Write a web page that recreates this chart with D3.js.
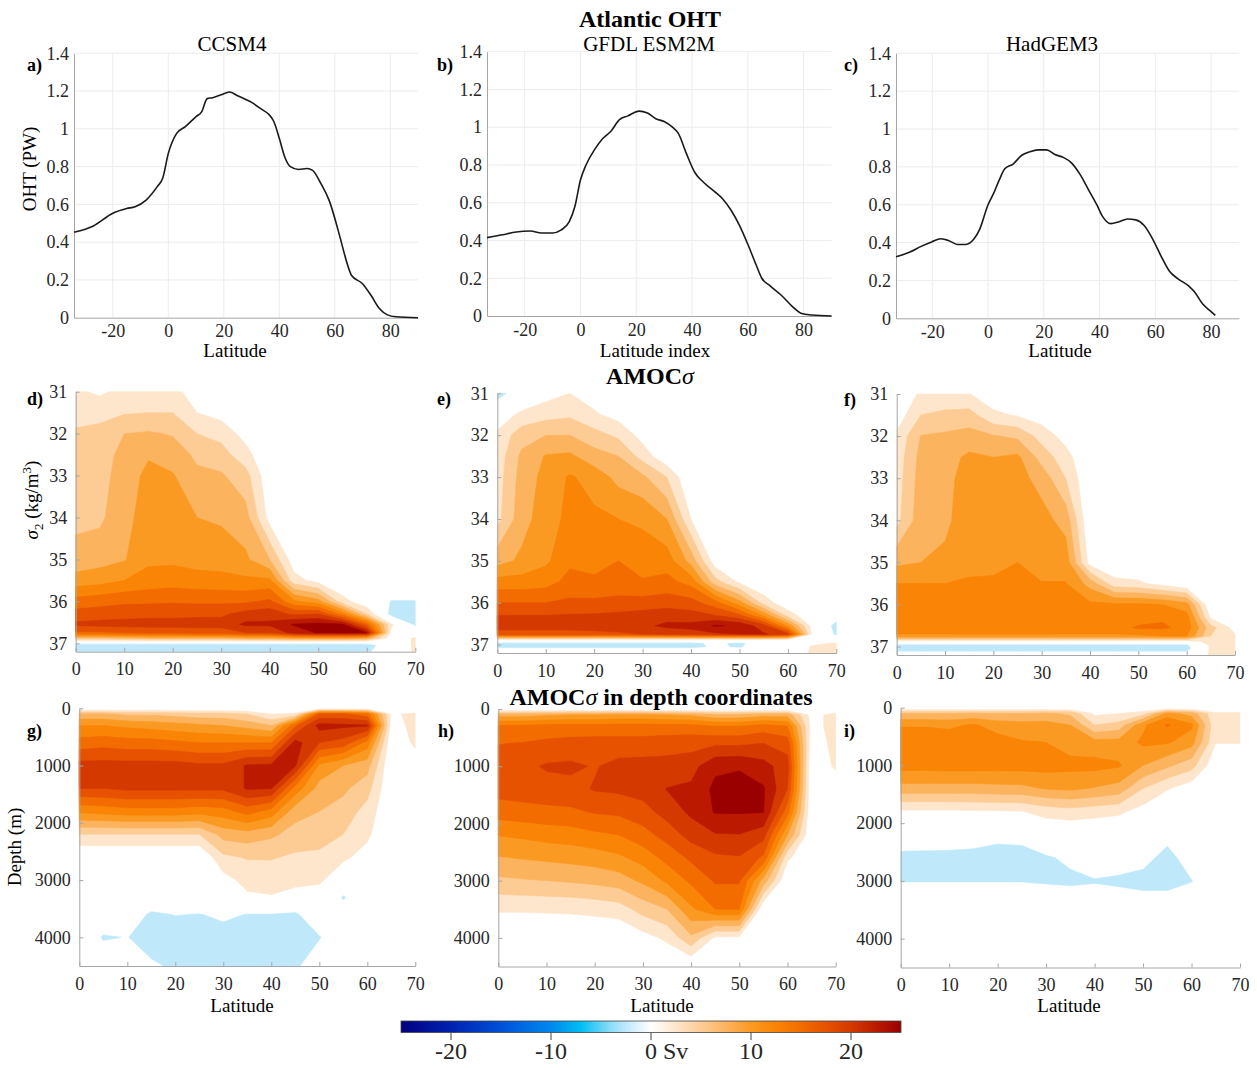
<!DOCTYPE html>
<html>
<head>
<meta charset="utf-8">
<script src="https://cdn.jsdelivr.net/npm/d3@7"></script>
<style>
  body { margin: 0; background: #fff; }
  text { font-family: "Liberation Serif", "Times New Roman", serif; }
</style>
</head>
<body>
<svg id="fig" width="1257" height="1070"></svg>
<script>
// ---- Atlantic OHT (PW) against latitude ----
var ohtLatCCSM4 = [-34,-27,-20,-15,-12,-8,-4,-2,0,3,6,10,12,14,16,19,22,25,30,34,36,38,40,42,44,47,50,52,55,58,62,64,66,70,73,76,79,82,90];
var ohtCCSM4 = [0.452,0.486,0.553,0.578,0.588,0.623,0.694,0.74,0.87,0.976,1.01,1.065,1.09,1.16,1.165,1.18,1.195,1.175,1.14,1.10,1.08,1.04,0.95,0.85,0.80,0.785,0.79,0.78,0.71,0.62,0.42,0.31,0.225,0.18,0.12,0.05,0.015,0.005,0.0];
var ohtLatGFDL = [-33.5,-28,-23,-18,-14,-10,-7,-4,-2,0,2,5,8,11,14,17,21,24,27,30,33,35,38,41,44,48,51,54,57,60,63,65,68,72,76,79,83,90];
var ohtGFDL = [0.415,0.43,0.445,0.45,0.44,0.44,0.455,0.50,0.58,0.72,0.80,0.88,0.94,0.98,1.04,1.06,1.085,1.075,1.045,1.03,1.00,0.97,0.86,0.76,0.71,0.66,0.62,0.56,0.48,0.38,0.27,0.20,0.16,0.11,0.05,0.015,0.005,0.0];
var ohtLatHadGEM3 = [-33,-28,-24,-20,-17,-14,-11,-8,-5,-3,0,2,4,6,9,12,15,18,21,24,27,30,33,36,39,41,44,47,50,53,56,59,62,65,68,72,74,77,80,81.5];
var ohtHadGEM3 = [0.325,0.35,0.38,0.405,0.42,0.41,0.39,0.39,0.42,0.47,0.60,0.66,0.73,0.79,0.815,0.86,0.88,0.89,0.89,0.865,0.85,0.82,0.76,0.68,0.60,0.54,0.50,0.51,0.525,0.52,0.49,0.42,0.33,0.25,0.21,0.17,0.14,0.075,0.035,0.015];

var ohtTicksX = [-20, 0, 20, 40, 60, 80];
var ohtTicksY = [0, 0.2, 0.4, 0.6, 0.8, 1, 1.2, 1.4];

// ---- AMOC streamfunction (Sv) grids: one array per latitude, values down the levels ----
var amocLat = [0, 5, 10, 15, 20, 25, 30, 35, 40, 45, 50, 55, 60, 65, 70];
var sigmaLevels = [31, 31.5, 32, 32.5, 33, 34, 35, 35.5, 36, 36.3, 36.55, 36.75, 36.88, 36.97, 37.05, 37.2];
var depthLevelsCCSM4 = [0, 100, 300, 600, 1000, 1400, 1800, 2200, 2600, 3000, 3300, 3600, 4000, 4500];
var depthLevels = [0, 100, 300, 600, 1000, 1400, 1800, 2200, 2600, 3000, 3500, 4000, 4500];

var ccsm4Sigma = [
  [3, 4.2, 5.3, 5.6, 6, 6.8, 8.5, 11, 16, 18.5, 20.5, 17, 7, 0, -4, -3],
  [2, 4.5, 5.5, 6, 6.3, 7, 9, 11.5, 16.5, 18.8, 20.8, 17, 7, 0, -4, -3],
  [3.5, 4.8, 7.5, 8.5, 9, 9.3, 9.8, 12.5, 17, 19, 21, 17.5, 7.5, 0, -4, -3],
  [3.8, 5, 7.8, 9.8, 10.5, 11, 12, 13.5, 17, 19.3, 21, 18, 8, 0, -4, -3],
  [3.5, 5, 7.3, 8.8, 10.2, 11, 12, 13.8, 17.2, 19.3, 21, 18, 8, 0, -4, -3],
  [1, 2.5, 5, 7, 8, 10, 11.5, 13.5, 17, 19.5, 21, 18.5, 8, 0, -4, -3],
  [0, 1.5, 4.2, 6, 7.8, 9.6, 11.5, 13.2, 17, 19.5, 21, 18.5, 8, 0, -4, -3],
  [-0.5, 0, 1.5, 3.5, 6, 8.5, 10.5, 13, 17, 21, 23, 20, 9, 0, -4, -3],
  [-0.5, -0.3, 0, 0, 0.5, 1.5, 7.5, 13, 18, 21.5, 23, 20, 9, 0, -4, -3],
  [0, 0, 0, 0, 0, 0, 1, 3.5, 13, 19.5, 25.3, 23.5, 10, 0, -4, -3],
  [0, 0, 0, 0, 0, 0, 0, 1.5, 11, 20, 25.8, 25.2, 10, 0, -4, -3],
  [0, 0, 0, 0, 0, 0, 0, 0, 3.5, 14, 25.5, 25.3, 10, 0, -4, -3],
  [0, 0, 0, 0, 0, 0, 0, 0, 0.5, 5, 17, 25, 9, 0, -4, -3],
  [0, 0, 0, 0, 0, 0, 0, 0, -2.6, -3.5, 3, 2, 1, 0, 0, 0],
  [0, 0, 0, 0, 0, 0, 0, 0, -2.6, -3.5, -3, 0.5, 2.8, 3, 3, 3]
];
var gfdlSigma = [
  [-4, 1, 3, 3.5, 3.8, 4.2, 9, 13.5, 17.5, 20, 21, 19, 2, -3, -3, 0],
  [0, 3, 6.5, 8, 8.5, 9, 10.5, 13.5, 17.5, 20, 21, 19, 2, -3, -3, 0],
  [1.5, 4, 7.5, 10.2, 10.8, 11.3, 12, 14, 17.5, 20, 21, 19, 2, -3, -3, 0],
  [2.5, 4.5, 7.5, 10.5, 12.8, 13.2, 14.5, 15.8, 18, 20.2, 21, 19, 2, -3, -3, 0],
  [1.5, 2.8, 6, 8.5, 11.5, 13, 14, 15.5, 18, 20.3, 21.5, 19, 2, -3, -3, 0],
  [0, 1.5, 4.5, 7.5, 9.2, 12.5, 15, 15.5, 18.5, 20.5, 21.5, 19.5, 2, -3, -3, 0],
  [-0.5, 0, 1.5, 4, 8, 12, 14, 15.2, 18.5, 21, 22, 20, 2, -3, -3, 0],
  [0, 0, 0, 0.5, 5, 10, 13.8, 15.8, 18.8, 21.5, 23, 21, 2, -3, -3, 0],
  [0, 0, 0, 0, 0, 2.5, 9, 14, 18.5, 21, 23.2, 21.5, 2, -3, -3, 0],
  [0, 0, 0, 0, 0, 0, 1, 6, 16, 20, 25.3, 22, 2, -2, -2.2, 0],
  [0, 0, 0, 0, 0, 0, 0, 2, 11, 18, 24.5, 22.5, 2, -3, -2.7, 0],
  [0, 0, 0, 0, 0, 0, 0, 0, 4, 12, 21, 22.8, 2, -1, -1, 0],
  [0, 0, 0, 0, 0, 0, 0, 0, 0.5, 4, 12, 21, 2, -1.5, -2, 0],
  [0, 0, 0, 0, 0, 0, 0, 0, 0, 0, 1.5, 2, 0.5, 1.5, 3, 3],
  [0, 0, 0, 0, 0, 0, 0, 0, 0, -1, -3.5, -3, 0, 3, 3.5, 3.5]
];
var hadgemSigma = [
  [0, 1, 3, 3.5, 3.8, 4.2, 9.5, 12.5, 13.5, 14, 14, 12, 1, -3, -3.5, -1],
  [3, 5, 7.6, 8.3, 8.6, 9, 10, 12.5, 13.5, 14, 14, 12, 1, -3, -3.5, -1],
  [3.5, 5.5, 8, 9, 9.3, 9.5, 10.5, 12.5, 13.8, 14, 14, 12, 1, -3, -3.5, -1],
  [2.6, 6, 8.5, 10.5, 11, 11.3, 11.8, 12.8, 13.8, 14, 14.2, 12, 1, -3, -3.5, -1],
  [1, 3, 7.7, 10, 11, 11.5, 12, 12.8, 13.8, 14, 14.2, 12, 1, -3, -3.5, -1],
  [0.5, 2.3, 7, 10.5, 11, 12.2, 12.5, 12.8, 14, 14, 14.2, 12, 1, -3, -3.5, -1],
  [0, 1.2, 4, 6.5, 9, 11, 11.5, 12.6, 13.8, 14, 14.2, 12, 1, -3, -3.5, -1],
  [0, 0, 1.5, 3.5, 5, 9, 11.5, 12.6, 13.8, 14, 14, 12, 1, -3, -3.5, -1],
  [0, 0, 0, 0, 0, 0, 1.5, 9, 13, 13.8, 14, 12, 1, -3, -3.5, -1],
  [0, 0, 0, 0, 0, 0, 0, 3.5, 13, 13.8, 14, 12, 1, -3, -3.5, -1],
  [0, 0, 0, 0, 0, 0, 0, 3, 13, 14, 15.3, 12, 1, -3, -3.5, -1],
  [0, 0, 0, 0, 0, 0, 0, 1.5, 12.5, 14.5, 15.5, 12.5, 1, -3, -3.5, -1],
  [0, 0, 0, 0, 0, 0, 0, 0, 11, 13.5, 14, 12.5, 1, -3, -3.5, -1],
  [0, 0, 0, 0, 0, 0, 0, 0, 0, 2, 6, 5, 3.5, 3, 3, 3],
  [0, 0, 0, 0, 0, 0, 0, 0, 0, 0, 1.5, 2.8, 3, 3, 3, 3]
];
var ccsm4Depth = [
  [0, 8, 12.5, 16, 21, 20, 13, 5, 0, 0, 0, 0, 0, 0],
  [0, 8, 12.5, 16.5, 21, 20, 13.5, 5, 0, 0, 0, 0, -2.8, 0],
  [0, 7, 12, 16, 21, 20.5, 14, 5, 0, 0, 0, -0.5, -2.4, 0],
  [0, 7, 11.5, 16, 21, 20.5, 14, 5, 0, 0, 0, -3, -4, -2],
  [0, 6.5, 11, 15.5, 21, 20.5, 14, 5, 0, 0, 0, -2.4, -4, -3],
  [0, 6, 10.5, 15, 20.5, 20.5, 13.5, 5, 0, 0, 0, -2.6, -4, -3],
  [0, 6, 10, 15, 20.5, 20.5, 14, 8.5, 4.5, 1.5, 0, -2, -3.5, -3],
  [0, 5, 9, 15, 22.8, 22.8, 16, 9, 5.2, 3.4, 2, -2.6, -4, -3],
  [0, 2.5, 7.5, 15, 23, 22.6, 14, 8, 5.2, 3.6, 2.3, -2.6, -4, -3],
  [0, 3, 17, 23.5, 22.8, 14, 8.5, 6.5, 4.6, 3.2, 1.5, -3, -4, -3],
  [0, 18, 23.5, 20, 12, 9, 7.5, 6, 4.5, 3, 1, 0, -2.7, -0.5],
  [0, 18, 23, 19, 10, 8, 6.5, 5, 3, 0.5, -2.8, -1, 0, 0],
  [0, 16, 22.8, 14, 8.5, 6, 4, 3, 1.5, 0, 0, 0, 0, 0],
  [0, 2, 1.5, 0.5, 0, 0, 0, 0, 0, 0, 0, 0, 0, 0],
  [0, 3.2, 3.2, 3, 1, 0, 0, 0, 0, 0, 0, 0, 0, 0]
];
var gfdlDepth = [
  [0, 9, 15.5, 17.4, 19, 18.5, 16.2, 12.6, 9.8, 7, 2.8, 0, 0],
  [0, 9, 15.5, 17.6, 19.3, 18.8, 16.5, 13, 10.2, 7.3, 2.8, 0, 0],
  [0, 9.5, 16, 18, 20.3, 19, 16.8, 13.5, 10.5, 7.5, 2.9, 0, 0],
  [0, 10, 16, 18.3, 20.5, 19.2, 17, 13.8, 10.8, 7.8, 3, 0, 0],
  [0, 10, 16, 18.5, 19.8, 20.2, 17.7, 14.5, 11.2, 8.2, 3.3, 0, 0],
  [0, 10.5, 16, 18.5, 20.8, 20.5, 18, 15, 12, 8.8, 3.8, 0, 0],
  [0, 10.5, 16, 18.5, 21, 21, 19, 16.5, 13.5, 10.5, 6, 1.5, 0],
  [0, 10, 16, 18.8, 21, 22.6, 21, 18.5, 15.8, 13, 7.5, 3, 0],
  [0, 9.5, 16, 19, 21.5, 23, 23, 21, 18, 15.5, 12, 7, 0],
  [0, 8, 15, 19.5, 24.5, 25.6, 25.2, 22.3, 19.5, 17.8, 15, 2, 0],
  [0, 8, 15, 19.5, 24.8, 25.8, 25.2, 22.4, 19.8, 17.8, 15, 2, 0],
  [0, 9, 16, 20, 23.5, 25.3, 25.1, 21, 17, 9, 0, 0, 0],
  [0, 9, 15, 19, 21, 20, 16, 10, 3, 0, 0, 0, 0],
  [0, 1.5, 1.5, 1, 0, 0, 0, 0, 0, 0, 0, 0, 0],
  [0, 3.5, 3.5, 3.3, 3, 0, 0, 0, 0, 0, 0, 0, 0]
];
var hadgemDepth = [
  [0, 7.5, 12.3, 14, 13.5, 9, 2, 0, -3.5, -2.6, 0, 0, 0],
  [0, 7.5, 12.3, 14, 13.5, 9, 2, 0, -3.6, -2.6, 0, 0, 0],
  [0, 7.5, 12, 14, 13.6, 9, 2, 0, -3.7, -2.6, 0, 0, 0],
  [0, 7.8, 12.8, 14, 13.6, 9, 2.2, -0.5, -3.8, -2.6, 0, 0, 0],
  [0, 7.5, 11.5, 13.5, 13.5, 9.2, 2.2, -1.5, -4, -2.6, 0, 0, 0],
  [0, 7.5, 11, 12.7, 13.5, 9.3, 2.4, -1.2, -4, -2.6, 0, 0, 0],
  [0, 8, 11, 12.5, 13.5, 10.2, 3.5, 0, -2.8, -2.8, 0, 0, 0],
  [0, 7, 10, 11.5, 13.2, 10.5, 4, 0, -2, -3, 0, 0, 0],
  [0, 2, 5, 11, 13.3, 9.8, 3.5, 0, -0.5, -2.7, -0.5, 0, 0],
  [0, 2.5, 6, 11, 12.8, 9, 3, 0, -1, -3, -0.5, 0, 0],
  [0, 4, 12, 13, 10, 5, 1.5, 0, -1.5, -3.5, -0.5, 0, 0],
  [0, 11, 15.3, 12.8, 8, 2.7, 0, -1.5, -3.5, -3.5, -0.5, 0, 0],
  [0, 9, 13, 11, 6, 1, 0, 0, -1, -2.6, -0.5, 0, 0],
  [0, 3, 3, 2.6, 0.5, 0, 0, 0, 0, 0, 0, 0, 0],
  [0, 3, 3, 2.6, 0.5, 0, 0, 0, 0, 0, 0, 0, 0]
];

var latTicks = [0, 10, 20, 30, 40, 50, 60, 70];
var sigmaTicks = [31, 32, 33, 34, 35, 36, 37];
var depthTicks = [0, 1000, 2000, 3000, 4000];

// contour levels (Sv) and colour map
var bandLevels = [2.5, 5, 7.5, 10, 12.5, 15, 17.5, 20, 22.5, 25];
var negLevel = -2.5;
var cmapStops = [-25, -20, -15, -10, -7, -4, -2.5, 0, 2.5, 5, 7.5, 10, 12.5, 15, 17.5, 20, 22.5, 25];
var cmapColors = ["#00007f", "#0022b0", "#0050d8", "#0088ee", "#00bff3", "#8fdcf6", "#bfe9fb", "#ffffff",
                  "#fee6cc", "#fdcc95", "#fcb35e", "#fb9a22", "#f98406", "#f26c00", "#e65200", "#d43a00", "#bb1a00", "#9a0000"];
var cbarTicks = [-20, -10, 0, 10, 20];

var svg = d3.select("#fig");
var serif = '"Liberation Serif", "Times New Roman", serif';
var cmap = d3.scaleLinear().domain(cmapStops).range(cmapColors).clamp(true);
var axisGrey = "#a6a6a6", tickText = "#262626";

function txt(x, y, s, size, weight, anchor) {
  return svg.append("text").attr("x", x).attr("y", y)
    .attr("font-family", serif).attr("font-size", size).attr("font-weight", weight || "normal")
    .attr("text-anchor", anchor || "middle").attr("fill", "#000").text(s);
}

function styleAxis(ax, size) {
  ax.attr("font-family", serif).attr("font-size", size);
  ax.select(".domain").attr("stroke", axisGrey);
  ax.selectAll(".tick line").attr("stroke", axisGrey);
  ax.selectAll(".tick text").attr("fill", tickText).attr("font-family", serif);
}

// ---------- top row: OHT lines ----------
function drawOht(p) {
  var x = d3.scaleLinear().domain(p.dom).range(p.xr);
  var y = d3.scaleLinear().domain([0, 1.4]).range(p.yr);
  var g = svg.append("g");
  g.selectAll(".gx").data(ohtTicksX).join("line").attr("class", "gx")
    .attr("x1", x).attr("x2", x).attr("y1", p.yr[0]).attr("y2", p.yr[1])
    .attr("stroke", "#ececec");
  g.selectAll(".gy").data(ohtTicksY.slice(1)).join("line").attr("class", "gy")
    .attr("x1", p.xr[0]).attr("x2", p.xr[1]).attr("y1", y).attr("y2", y)
    .attr("stroke", "#ececec");

  var ax = g.append("g").attr("transform", "translate(0," + p.yr[0] + ")")
    .call(d3.axisBottom(x).tickValues(ohtTicksX).tickSize(0).tickPadding(7).tickFormat(String));
  styleAxis(ax, 18);
  var ay = g.append("g").attr("transform", "translate(" + p.xr[0] + ",0)")
    .call(d3.axisLeft(y).tickValues(ohtTicksY).tickSize(0).tickPadding(5).tickFormat(String));
  styleAxis(ay, 18);

  var line = d3.line().x(function (d) { return x(d[0]); }).y(function (d) { return y(d[1]); })
    .curve(d3.curveMonotoneX);
  g.append("path").datum(d3.zip(p.lat, p.val))
    .attr("d", line).attr("fill", "none").attr("stroke", "#1a1a1a").attr("stroke-width", 1.6);

  txt(p.tx, 51, p.title, 21);
  txt(p.lx, 71, p.label, 18, "bold", "start");
  txt(p.xlabX, 357, p.xlab, 19);
}

// ---------- contour panels ----------
function drawField(p) {
  var nc = amocLat.length, nr = p.rows.length;
  var vals = new Array(nc * nr);
  for (var r = 0; r < nr; r++) for (var c = 0; c < nc; c++) vals[r * nc + c] = p.grid[c][r];

  var x = d3.scaleLinear().domain([0, 70]).range(p.xr);
  var y = d3.scaleLinear().domain(p.ydom).range(p.yr);
  // grid index space -> data space (samples sit at k + 0.5)
  var u = d3.scaleLinear()
    .domain([0].concat(d3.range(nc).map(function (i) { return i + 0.5; }), [nc]))
    .range([amocLat[0]].concat(amocLat, [amocLat[nc - 1]]));
  var v = d3.scaleLinear()
    .domain([0].concat(d3.range(nr).map(function (i) { return i + 0.5; }), [nr]))
    .range([p.rows[0]].concat(p.rows, [p.rows[nr - 1]]));

  function pathOf(mp) {
    return mp.coordinates.map(function (poly) {
      return poly.map(function (ring) {
        return "M" + ring.map(function (pt) {
          return x(u(pt[0])).toFixed(2) + "," + y(v(pt[1])).toFixed(2);
        }).join("L") + "Z";
      }).join("");
    }).join("");
  }

  var g = svg.append("g");
  var bands = d3.contours().size([nc, nr]).thresholds(bandLevels)(vals);
  g.selectAll(".band").data(bands).join("path").attr("class", "band")
    .attr("d", pathOf)
    .attr("fill", function (d) { return cmap(d.value); })
    .attr("stroke", function (d) { return cmap(d.value); })
    .attr("stroke-width", 0.5);
  var neg = d3.contours().size([nc, nr]).thresholds([-negLevel])(vals.map(function (a) { return -a; }));
  g.selectAll(".neg").data(neg).join("path").attr("class", "neg")
    .attr("d", pathOf).attr("fill", cmap(negLevel))
    .attr("stroke", cmap(negLevel)).attr("stroke-width", 0.5);

  var ax = g.append("g").attr("transform", "translate(0," + p.yr[1] + ")")
    .call(d3.axisBottom(x).tickValues(latTicks).tickSizeInner(-4).tickSizeOuter(0).tickPadding(11));
  styleAxis(ax, 18);
  var ay = g.append("g").attr("transform", "translate(" + p.xr[0] + ",0)")
    .call(d3.axisLeft(y).tickValues(p.yticks).tickSizeInner(-4).tickSizeOuter(0).tickPadding(8.5).tickFormat(String));
  styleAxis(ay, 18);

  txt(p.lx, p.ly, p.label, 18, "bold", "start");
  if (p.xlab) txt(p.xlabX, 1012, p.xlab, 19);
}

drawOht({ lat: ohtLatCCSM4, val: ohtCCSM4, dom: [-34, 90], xr: [74, 418], yr: [317.7, 53.3],
  title: "CCSM4", tx: 232, label: "a)", lx: 27, xlab: "Latitude", xlabX: 235 });
drawOht({ lat: ohtLatGFDL, val: ohtGFDL, dom: [-33.5, 90], xr: [487, 831.5], yr: [316, 51.7],
  title: "GFDL ESM2M", tx: 649, label: "b)", lx: 437, xlab: "Latitude index", xlabX: 655 });
drawOht({ lat: ohtLatHadGEM3, val: ohtHadGEM3, dom: [-33, 90], xr: [896, 1239], yr: [318.3, 53.3],
  title: "HadGEM3", tx: 1052, label: "c)", lx: 844, xlab: "Latitude", xlabX: 1060 });

drawField({ grid: ccsm4Sigma, rows: sigmaLevels, ydom: [31, 37.2], yticks: sigmaTicks,
  xr: [75.7, 415.3], yr: [391.7, 651.7], label: "d)", lx: 27, ly: 405 });
drawField({ grid: gfdlSigma, rows: sigmaLevels, ydom: [31, 37.2], yticks: sigmaTicks,
  xr: [497.3, 836.3], yr: [393.3, 653], label: "e)", lx: 437, ly: 405 });
drawField({ grid: hadgemSigma, rows: sigmaLevels, ydom: [31, 37.2], yticks: sigmaTicks,
  xr: [896.7, 1235], yr: [394, 655], label: "f)", lx: 844, ly: 406 });

drawField({ grid: ccsm4Depth, rows: depthLevelsCCSM4, ydom: [0, 4500], yticks: depthTicks,
  xr: [79.3, 415.3], yr: [708.3, 966], label: "g)", lx: 27, ly: 737, xlab: "Latitude", xlabX: 242 });
drawField({ grid: gfdlDepth, rows: depthLevels, ydom: [0, 4500], yticks: depthTicks,
  xr: [498.3, 835.7], yr: [709, 966.5], label: "h)", lx: 438, ly: 737, xlab: "Latitude", xlabX: 662 });
drawField({ grid: hadgemDepth, rows: depthLevels, ydom: [0, 4500], yticks: depthTicks,
  xr: [900.7, 1240], yr: [707.7, 967.5], label: "i)", lx: 844, ly: 737, xlab: "Latitude", xlabX: 1069 });

// ---------- titles and axis labels ----------
txt(650, 27, "Atlantic OHT", 24, "bold");
var t2 = txt(650, 384, "AMOC", 24, "bold");
t2.append("tspan").attr("font-style", "italic").attr("font-weight", "normal").text("σ");
var t3 = txt(661, 705, "AMOC", 24, "bold");
t3.append("tspan").attr("font-style", "italic").attr("font-weight", "normal").text("σ");
t3.append("tspan").text(" in depth coordinates");

svg.append("text").attr("transform", "translate(36,169) rotate(-90)").attr("font-family", serif)
  .attr("text-anchor", "middle").attr("font-size", 19).text("OHT (PW)");
svg.append("text").attr("transform", "translate(21,847) rotate(-90)").attr("font-family", serif)
  .attr("text-anchor", "middle").attr("font-size", 19).text("Depth (m)");
var sl = svg.append("text").attr("transform", "translate(38,500) rotate(-90)").attr("font-family", serif)
  .attr("text-anchor", "middle").attr("font-size", 19);
sl.append("tspan").attr("font-style", "italic").text("σ");
sl.append("tspan").attr("font-size", 13).attr("dy", 5).text("2");
sl.append("tspan").attr("dy", -5).text(" (kg/m");
sl.append("tspan").attr("font-size", 13).attr("dy", -7).text("3");
sl.append("tspan").attr("dy", 7).text(")");

// ---------- colour bar ----------
var cx = d3.scaleLinear().domain([-25, 25]).range([401, 901]);
var grad = svg.append("defs").append("linearGradient").attr("id", "cbar");
grad.selectAll("stop").data(cmapStops).join("stop")
  .attr("offset", function (d) { return (d + 25) / 50; })
  .attr("stop-color", function (d) { return cmap(d); });
svg.append("rect").attr("x", cx(-25)).attr("y", 1021).attr("width", cx(25) - cx(-25)).attr("height", 11.5)
  .attr("fill", "url(#cbar)").attr("stroke", "#444").attr("stroke-width", 0.8);
svg.selectAll(".cbt").data(cbarTicks).join("line").attr("class", "cbt")
  .attr("x1", cx).attr("x2", cx).attr("y1", 1032.5).attr("y2", 1040)
  .attr("stroke", "#444").attr("stroke-width", 1);
cbarTicks.forEach(function (t) {
  if (t === 0) txt(cx(t) - 6, 1059, "0 Sv", 24, "normal", "start").attr("fill", tickText);
  else txt(cx(t), 1059, String(t), 24).attr("fill", tickText);
});
</script>
</body>
</html>
